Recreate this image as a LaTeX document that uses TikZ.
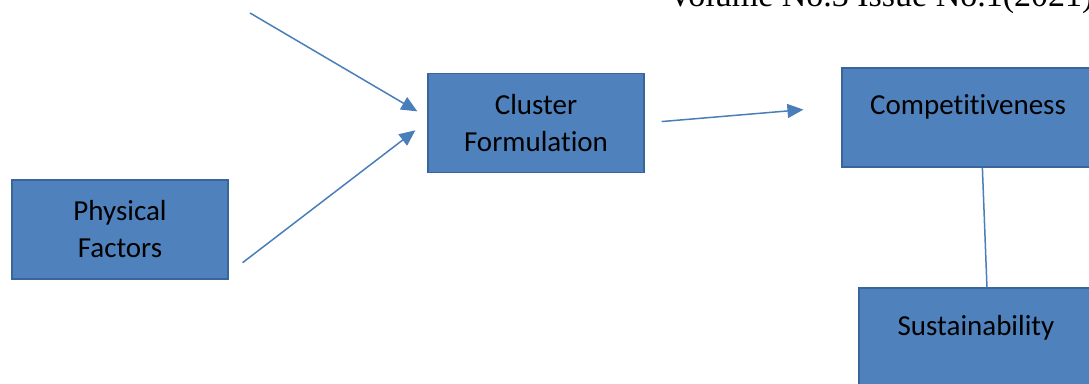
\documentclass[tikz,border=0pt]{standalone}
\usepackage{fontspec}
\setmainfont{Carlito}[Ligatures={NoCommon}]
\newfontfamily\hdrfont{Liberation Serif}
\usetikzlibrary{arrows.meta}
\definecolor{boxfill}{HTML}{4F81BD}
\definecolor{boxline}{HTML}{3A659B}
\definecolor{arrline}{HTML}{4A7EBB}
\tikzset{
  box/.style={draw=boxline, line width=1.2pt, fill=boxfill, inner sep=0pt,
    minimum width=216pt, minimum height=99pt, align=center,
    font=\fontsize{29}{37}\selectfont, text=black},
  topbox/.style={draw=boxline, line width=1.2pt, fill=boxfill, inner xsep=0pt, inner ysep=0pt,
    text height=47pt, font=\fontsize{29}{37}\selectfont, text=black},
  arr/.style={draw=arrline, line width=1.5pt, -{Triangle[length=16pt,width=14pt]}},
  link/.style={draw=arrline, line width=1.5pt},
  hdr/.style={font=\hdrfont\fontsize{34}{40}\selectfont, inner sep=0pt, anchor=base west}
}
\begin{document}
\begin{tikzpicture}[x=1pt,y=1pt]
\useasboundingbox (0,0) rectangle (1089,383);
\clip (0,0) rectangle (1089,383);
\node[hdr] (hd) at (668,376) {Volume No.3 Issue No.1(2021)};
\node[box] (phy) at (120,153.5) {Physical\\Factors};
\node[box] (clu) at (536,260) {Cluster\\Formulation};
\node[topbox, text width=252pt, align=center, text depth=52pt] (comp) at (968,265.5) {Competitiveness};
\node[topbox, text width=234pt, align=center, text depth=55pt] (sust) at (976,44) {Sustainability};
\coordinate (a1) at (250,370);
\draw[arr, shorten >=11.7pt] (a1) -- (clu.177.3);
\draw[arr, shorten <=17.6pt, shorten >=15.1pt] (phy.-22.7) -- (clu.179.4);
\draw[arr, shorten <=17pt, shorten >=38.1pt] (clu.0.37) -- (comp.175.3);
\draw[link] (comp.-74.2) -- (sust.78.9);
\end{tikzpicture}
\end{document}
